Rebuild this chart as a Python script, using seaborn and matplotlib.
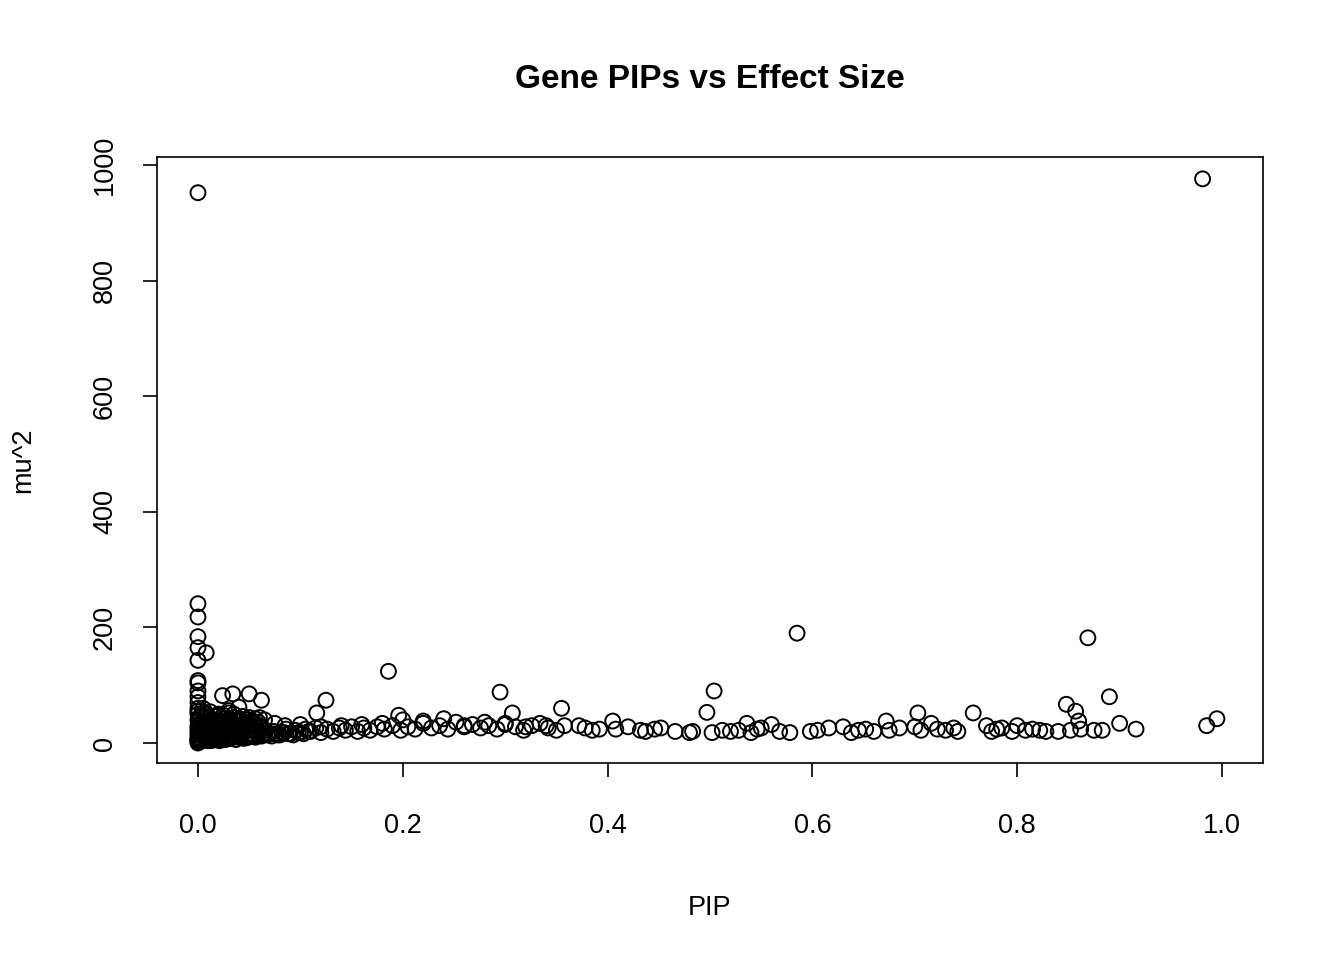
import matplotlib
matplotlib.use('Agg')
import matplotlib.pyplot as plt
import seaborn as sns
import pandas as pd

# Valores (PIP, mu^2)
pip_outliers = [0.0, 0.981, 0.0, 0.0, 0.0, 0.0, 0.008, 0.0, 0.0, 0.0, 0.0, 0.0,
                0.585, 0.869, 0.186, 0.295, 0.504, 0.890, 0.125, 0.062, 0.034,
                0.050, 0.024, 0.848, 0.857, 0.757, 0.703, 0.497, 0.355, 0.307,
                0.196, 0.985, 0.995, 0.900, 0.860, 0.116, 0.040, 0.0, 0.0, 0.0]
mu2_outliers = [952, 976, 241, 218, 184, 165, 156, 143, 108, 104, 90, 80,
                190, 182, 124, 88, 90, 80, 74, 74, 85,
                85, 82, 67, 55, 52, 52, 53, 60, 52,
                48, 30, 42, 34, 38, 52, 62, 70, 60, 55]

pip_band = [0.372, 0.378, 0.385, 0.392, 0.405, 0.408, 0.420, 0.432, 0.437, 0.446,
            0.452, 0.466, 0.480, 0.483, 0.502, 0.512, 0.520, 0.528, 0.536, 0.540,
            0.546, 0.550, 0.560, 0.568, 0.578, 0.598, 0.605, 0.616, 0.630, 0.638,
            0.645, 0.652, 0.660, 0.672, 0.675, 0.685, 0.700, 0.706, 0.716, 0.722,
            0.730, 0.738, 0.742, 0.770, 0.775, 0.780, 0.785, 0.795, 0.800, 0.808,
            0.815, 0.822, 0.828, 0.840, 0.852, 0.862, 0.875, 0.883, 0.916]
mu2_band = [30, 26, 22, 24, 38, 24, 28, 22, 20, 24,
            26, 20, 18, 20, 18, 22, 20, 22, 34, 18,
            24, 26, 32, 20, 18, 20, 22, 26, 28, 18,
            22, 24, 20, 38, 22, 26, 28, 22, 34, 24,
            22, 26, 20, 30, 20, 24, 26, 20, 30, 22,
            24, 22, 20, 20, 22, 24, 22, 22, 24]

pip_dense = [0.0, 0.0, 0.0, 0.0, 0.0, 0.0, 0.0, 0.0, 0.002, 0.003, 0.004, 0.005,
             0.006, 0.008, 0.010, 0.012, 0.014, 0.016, 0.018, 0.020, 0.022, 0.024,
             0.026, 0.028, 0.030, 0.032, 0.034, 0.036, 0.038, 0.040, 0.042, 0.044,
             0.046, 0.048, 0.050, 0.052, 0.055, 0.058, 0.060, 0.063, 0.066, 0.070,
             0.074, 0.078, 0.082, 0.086, 0.090, 0.095, 0.100, 0.105, 0.110, 0.115,
             0.120, 0.126, 0.132, 0.138, 0.144, 0.150, 0.156, 0.162, 0.168, 0.175,
             0.182, 0.190, 0.198, 0.205, 0.212, 0.220, 0.228, 0.236, 0.244, 0.252,
             0.260, 0.268, 0.276, 0.284, 0.292, 0.300, 0.310, 0.318, 0.326, 0.334,
             0.342, 0.350, 0.358, 0.010, 0.020, 0.030, 0.040, 0.050, 0.060, 0.005,
             0.015, 0.025, 0.035, 0.045, 0.055, 0.065, 0.075, 0.085, 0.100, 0.120,
             0.140, 0.160, 0.180, 0.200, 0.220, 0.240, 0.260, 0.280, 0.300, 0.320,
             0.340, 0.0, 0.0, 0.0, 0.001, 0.002, 0.010, 0.020, 0.030, 0.040]
mu2_dense = [5, 10, 15, 20, 25, 30, 40, 50, 8, 12, 18, 24,
             30, 36, 10, 14, 20, 26, 32, 8, 12, 18,
             24, 30, 10, 16, 22, 28, 40, 12, 18, 24,
             30, 10, 16, 22, 12, 20, 28, 14, 22, 16,
             20, 14, 18, 24, 16, 22, 18, 24, 20, 26,
             18, 24, 20, 26, 22, 28, 20, 26, 22, 28,
             24, 30, 22, 28, 24, 34, 26, 30, 24, 36,
             28, 32, 26, 30, 24, 32, 28, 22, 30, 34,
             26, 22, 30, 44, 48, 56, 40, 36, 44, 60,
             34, 38, 50, 30, 36, 40, 34, 30, 32, 28,
             30, 32, 34, 40, 38, 42, 30, 36, 34, 28,
             30, 2, 0, 6, 4, 3, 4, 6, 8, 10]

# Nube muy densa cerca de PIP = 0
pip_blob = [0.001, 0.004, 0.007, 0.009, 0.011, 0.013, 0.015, 0.017, 0.019, 0.021,
            0.023, 0.025, 0.027, 0.029, 0.031, 0.033, 0.035, 0.037, 0.039, 0.041,
            0.043, 0.045, 0.047, 0.049, 0.051, 0.053, 0.056, 0.059, 0.062, 0.065,
            0.068, 0.072, 0.076, 0.080, 0.084, 0.088, 0.093, 0.098, 0.103, 0.108,
            0.003, 0.006, 0.009, 0.012, 0.015, 0.018, 0.021, 0.024, 0.027, 0.030,
            0.033, 0.036, 0.039, 0.042, 0.045, 0.048, 0.051, 0.054, 0.057, 0.060,
            0.002, 0.005, 0.008, 0.011, 0.014, 0.017, 0.020, 0.023, 0.026, 0.029,
            0.032, 0.035, 0.038, 0.041, 0.044, 0.047, 0.050, 0.053, 0.056, 0.059,
            0.001, 0.003, 0.005, 0.007, 0.009, 0.012, 0.016, 0.020, 0.025, 0.030]
mu2_blob = [2, 4, 6, 8, 6, 4, 8, 10, 6, 4,
            8, 12, 6, 10, 8, 12, 10, 6, 12, 10,
            14, 8, 12, 10, 14, 12, 10, 14, 12, 16,
            14, 12, 16, 14, 18, 16, 14, 18, 16, 20,
            16, 20, 24, 18, 22, 26, 20, 24, 28, 22,
            26, 30, 24, 28, 32, 26, 30, 22, 26, 30,
            28, 34, 38, 32, 36, 40, 34, 38, 42, 36,
            40, 44, 38, 42, 46, 40, 44, 38, 42, 36,
            44, 48, 52, 46, 50, 54, 46, 50, 48, 52]

df = pd.DataFrame({
    'PIP': pip_outliers + pip_band + pip_dense + pip_blob,
    'mu2': mu2_outliers + mu2_band + mu2_dense + mu2_blob,
})

sns.set_style('white')
plt.rcParams['font.family'] = ['Liberation Sans', 'DejaVu Sans']
plt.rcParams['text.color'] = 'black'
plt.rcParams['axes.labelcolor'] = 'black'
plt.rcParams['xtick.color'] = 'black'
plt.rcParams['ytick.color'] = 'black'

fig = plt.figure(figsize=(13.44, 9.6), dpi=100)
ax = fig.add_axes([157 / 1344, 1 - 763 / 960, (1263 - 157) / 1344, (763 - 157) / 960])
sns.scatterplot(data=df, x='PIP', y='mu2', ax=ax, marker='o', s=115,
                facecolor='none', edgecolor='black', linewidth=1.4)

ax.set_xlim(-0.04, 1.04)
ax.set_ylim(-34.6, 1013.8)
ax.set_xticks([0, 0.2, 0.4, 0.6, 0.8, 1.0])
ax.set_xticklabels(['0.0', '0.2', '0.4', '0.6', '0.8', '1.0'])
ax.set_yticks([0, 200, 400, 600, 800, 1000])
for lab in ax.get_yticklabels():
    lab.set_rotation(90)
    lab.set_va('center')
ax.tick_params(axis='both', labelsize=19.5, length=10, width=1.2, direction='out',
               bottom=True, left=True, pad=26)
ax.tick_params(axis='y', pad=18)
for sp in ax.spines.values():
    sp.set_color('black')
    sp.set_linewidth(1.2)
ax.set_xlabel('PIP', fontsize=19.5, labelpad=40)
ax.set_ylabel('mu^2', fontsize=19.5, labelpad=40)
fig.text(710 / 1344, 1 - 80 / 960, 'Gene PIPs vs Effect Size', ha='center', va='center',
         fontsize=24, fontweight='bold')

fig.savefig('out.png', dpi=100)
